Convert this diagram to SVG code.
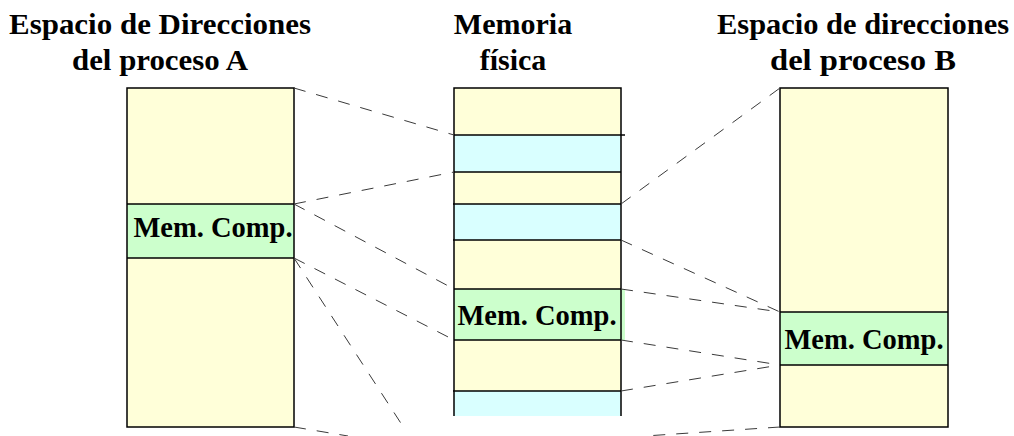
<svg xmlns="http://www.w3.org/2000/svg" width="1014" height="436" viewBox="0 0 1014 436">
  <style>
    .title { font-family: "Liberation Serif", "Times New Roman", serif; font-weight: bold; font-size: 30px; fill: #000; text-anchor: middle; }
    .label { font-family: "Liberation Serif", "Times New Roman", serif; font-weight: bold; font-size: 28.5px; fill: #000; text-anchor: middle; }
    .free { fill: #FFFFD9; }
    .other { fill: #D9FFFF; }
    .shared { fill: #CCFFCC; }
    .edge { stroke: #000; stroke-width: 1.5; fill: none; }
    .map { stroke: #3a3a3a; stroke-width: 1; stroke-dasharray: 12 11; fill: none; }
  </style>
  <rect width="1014" height="436" fill="#fff"/>

  <!-- Address space of process A -->
  <g id="procesoA">
    <text class="title" x="160" y="34" textLength="302" lengthAdjust="spacingAndGlyphs">Espacio de Direcciones</text>
    <text class="title" x="160" y="70" textLength="176" lengthAdjust="spacingAndGlyphs">del proceso A</text>
    <rect class="free" x="127" y="88" width="167" height="339"/>
    <rect class="shared" x="127" y="204" width="167" height="54"/>
    <rect class="edge" x="127" y="88" width="167" height="339"/>
    <line class="edge" x1="127" y1="204" x2="294" y2="204"/>
    <line class="edge" x1="127" y1="258" x2="294" y2="258"/>
    <text class="label" x="213" y="237">Mem. Comp.</text>
  </g>

  <!-- Physical memory -->
  <g id="memoria">
    <text class="title" x="513" y="34">Memoria</text>
    <text class="title" x="513" y="70">física</text>
    <rect class="free" x="454" y="88" width="167" height="47"/>
    <rect class="other" x="454" y="135" width="167" height="37"/>
    <rect class="free" x="454" y="172" width="167" height="32"/>
    <rect class="other" x="454" y="204" width="167" height="36"/>
    <rect class="free" x="454" y="240" width="167" height="49"/>
    <rect class="shared" x="454" y="289" width="171" height="51"/>
    <rect class="free" x="454" y="340" width="167" height="51"/>
    <rect class="other" x="454" y="391" width="167" height="25"/>
    <path class="edge" d="M454,416 V88 H621 V416"/>
    <line class="edge" x1="454" y1="135" x2="625" y2="135"/>
    <line class="edge" x1="454" y1="172" x2="621" y2="172"/>
    <line class="edge" x1="453" y1="204" x2="621" y2="204"/>
    <line class="edge" x1="453" y1="240" x2="621" y2="240"/>
    <line class="edge" x1="454" y1="289" x2="621" y2="289"/>
    <line class="edge" x1="454" y1="340" x2="621" y2="340"/>
    <line class="edge" x1="453" y1="391" x2="621" y2="391"/>
    <text class="label" x="537" y="325">Mem. Comp.</text>
  </g>

  <!-- Address space of process B -->
  <g id="procesoB">
    <text class="title" x="863" y="34" textLength="292" lengthAdjust="spacingAndGlyphs">Espacio de direcciones</text>
    <text class="title" x="863" y="70" textLength="186" lengthAdjust="spacingAndGlyphs">del proceso B</text>
    <rect class="free" x="780" y="88" width="168" height="339"/>
    <rect class="shared" x="780" y="312" width="168" height="53"/>
    <rect class="edge" x="780" y="88" width="168" height="339"/>
    <line class="edge" x1="780" y1="312" x2="948" y2="312"/>
    <line class="edge" x1="780" y1="365" x2="948" y2="365"/>
    <text class="label" x="864" y="349">Mem. Comp.</text>
  </g>

  <!-- Page mappings between address spaces and physical memory -->
  <g id="conectores">
    <line class="map" x1="294" y1="88" x2="454" y2="135"/>
    <line class="map" x1="294" y1="204" x2="454" y2="172"/>
    <line class="map" x1="294" y1="204" x2="454" y2="289"/>
    <line class="map" x1="294" y1="258" x2="454" y2="340"/>
    <line class="map" x1="294" y1="258" x2="404" y2="428"/>
    <line class="map" x1="294" y1="427" x2="348" y2="436"/>
    <line class="map" x1="621" y1="204" x2="780" y2="88"/>
    <line class="map" x1="621" y1="240" x2="780" y2="312"/>
    <line class="map" x1="621" y1="289" x2="780" y2="312"/>
    <line class="map" x1="621" y1="340" x2="780" y2="365"/>
    <line class="map" x1="621" y1="391" x2="780" y2="365"/>
    <line class="map" x1="780" y1="427" x2="645" y2="436"/>
  </g>
</svg>
